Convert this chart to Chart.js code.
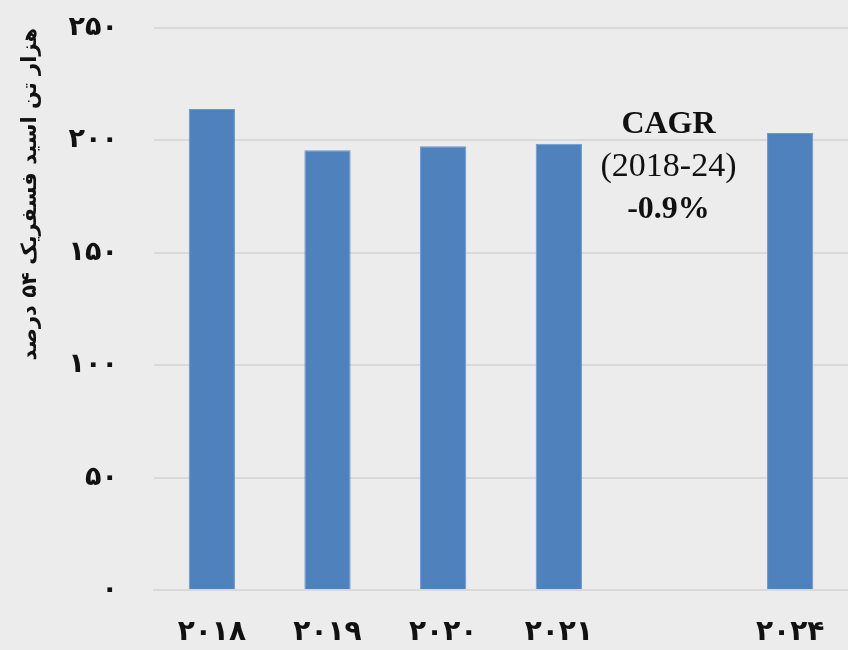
<!DOCTYPE html>
<html><head><meta charset="utf-8">
<script src="https://cdn.jsdelivr.net/npm/chart.js@4"></script>
<style>html,body{margin:0;padding:0;background:#ECECEC;}#wrap{width:848px;height:650px;}</style>
</head><body><div id="wrap"><canvas id="c" width="848" height="650"></canvas></div>
<script>
const categories = ['۲۰۱۸', '۲۰۱۹', '۲۰۲۰', '۲۰۲۱', '', '۲۰۲۴'];
const values = [214.0, 195.6, 197.4, 198.5, null, 203.3];
const yTickLabels = {0:'۰', 50:'۵۰', 100:'۱۰۰', 150:'۱۵۰', 200:'۲۰۰', 250:'۲۵۰'};
const yTitle = 'هزار تن اسید فسفریک ۵۴ درصد';
const noteLines = ['CAGR', '(2018-24)', '-0.9%'];
const noteFonts = ["bold 32px 'Liberation Serif'", "normal 34px 'Liberation Serif'", "bold 32px 'Liberation Serif'"];
const noteCategoryIndex = 4;

const faFont = "'DejaVu Sans'";
const noteLinesPlugin = {
  id: 'note',
  afterDatasetsDraw(chart) {
    const ctx = chart.ctx;
    const x = chart.scales.x.getPixelForValue(noteCategoryIndex) - 6;
    ctx.save();
    ctx.fillStyle = '#111';
    ctx.textAlign = 'center';
    ctx.textBaseline = 'middle';
    const y0 = 125;
    noteLines.forEach((t, i) => {
      ctx.font = noteFonts[i];
      ctx.fillText(t, x, y0 + i * 42.5);
    });
    ctx.restore();
  }
};
const bgPlugin = {
  id: 'bg',
  beforeDraw(chart) {
    const ctx = chart.ctx;
    ctx.save(); ctx.fillStyle = '#ECECEC'; ctx.fillRect(0, 0, chart.width, chart.height); ctx.restore();
  }
};

new Chart(document.getElementById('c'), {
  type: 'bar',
  data: { labels: categories, datasets: [{ data: values, backgroundColor: '#4F81BD', borderColor: '#6D96CA', borderWidth: 1, barPercentage: 0.4, categoryPercentage: 1.0 }] },
  options: {
    responsive: false, animation: false,
    layout: { padding: { top: 28, right: 0, left: 0, bottom: 0 } },
    plugins: { legend: { display: false }, tooltip: { enabled: false } },
    scales: {
      x: {
        grid: { display: false, drawTicks: false },
        border: { display: true, color: '#D9D9D9', width: 2 },
        ticks: { color: '#111', font: { family: faFont, size: 28, weight: 'bold' }, padding: 26, maxRotation: 0, autoSkip: false },
        afterFit(s) { s.height = 60; s.paddingLeft = 0; s.paddingRight = 0; }
      },
      y: {
        min: 0, max: 250,
        grid: { color: '#D9D9D9', lineWidth: 2, drawTicks: false },
        border: { display: false },
        ticks: { stepSize: 50, color: '#111', font: { family: faFont, size: 27, weight: 'bold' }, padding: 36,
          callback: v => yTickLabels[v] },
        title: { display: true, text: yTitle, align: 'end', color: '#111', font: { family: faFont, size: 21, weight: 'bold' }, padding: { top: 18, bottom: 0 } },
        afterFit(s) { s.width = 154; s.paddingTop = 0; s.paddingBottom = 0; }
      }
    }
  },
  plugins: [bgPlugin, noteLinesPlugin]
});
</script></body></html>
